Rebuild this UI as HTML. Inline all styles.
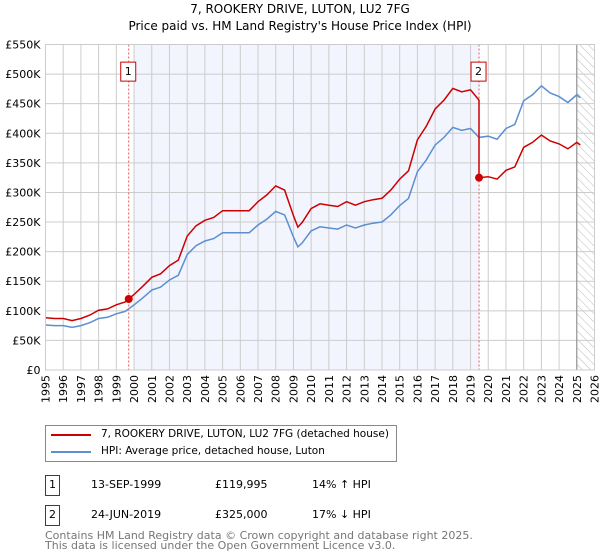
<!DOCTYPE html>
<html><head><meta charset="utf-8"><style>
body{margin:0;background:#fff;font-family:"DejaVu Sans","Liberation Sans",sans-serif;}
#wrap{position:relative;width:600px;height:560px;overflow:hidden;}
.nw{white-space:nowrap}
</style></head><body><div id="wrap">
<svg id="chart" width="600" height="560" style="position:absolute;left:0;top:0;font-family:'DejaVu Sans','Liberation Sans',sans-serif">
<text x="300" y="13" text-anchor="middle" font-size="12">7, ROOKERY DRIVE, LUTON, LU2 7FG</text>
<text x="300" y="30" text-anchor="middle" font-size="12">Price paid vs. HM Land Registry's House Price Index (HPI)</text>
<g id="plot"></g>
</svg>
<div class="nw" style="position:absolute;left:45px;top:425px;width:350px;height:35px;border:1px solid #888;font-size:10.5px">
 <div style="position:absolute;left:5px;top:8px;width:40px;height:2px;background:#cc0000"></div>
 <div class="nw" style="position:absolute;left:55px;top:2px">7, ROOKERY DRIVE, LUTON, LU2 7FG (detached house)</div>
 <div style="position:absolute;left:5px;top:25px;width:40px;height:2px;background:#5b8fd0"></div>
 <div class="nw" style="position:absolute;left:55px;top:19px">HPI: Average price, detached house, Luton</div>
</div>
<div style="font-size:11px" class="nw">
 <div style="position:absolute;left:45px;top:475px;width:13px;height:19px;border:1px solid #cc0000;text-align:center;line-height:18px">1</div>
 <div style="position:absolute;left:91px;top:478px">13-SEP-1999</div>
 <div style="position:absolute;left:215px;top:478px">£119,995</div>
 <div style="position:absolute;left:312px;top:478px">14% ↑ HPI</div>
 <div style="position:absolute;left:45px;top:505px;width:13px;height:19px;border:1px solid #cc0000;text-align:center;line-height:18px">2</div>
 <div style="position:absolute;left:91px;top:508px">24-JUN-2019</div>
 <div style="position:absolute;left:215px;top:508px">£325,000</div>
 <div style="position:absolute;left:312px;top:508px">17% ↓ HPI</div>
</div>
<div class="nw" style="position:absolute;left:45px;top:531px;font-size:11px;color:#777;line-height:10px">Contains HM Land Registry data © Crown copyright and database right 2025.<br>This data is licensed under the Open Government Licence v3.0.</div>
</div>
<script>
const years=[1995,1995.5,1996,1996.5,1997,1997.5,1998,1998.5,1999,1999.5,2000,2000.5,2001,2001.5,2002,2002.5,2003,2003.5,2004,2004.5,2005,2005.5,2006,2006.5,2007,2007.5,2008,2008.5,2009,2009.25,2009.5,2010,2010.5,2011,2011.5,2012,2012.5,2013,2013.5,2014,2014.5,2015,2015.5,2016,2016.5,2017,2017.5,2018,2018.5,2019,2019.48,2020,2020.5,2021,2021.5,2022,2022.5,2023,2023.5,2024,2024.5,2025,2025.2];
const hpi=[76,75,75,72,75,80,87,89,95,99,110,122,135,140,152,160,195,210,218,222,232,232,232,232,245,255,268,262,225,208,215,235,242,240,238,245,240,245,248,250,262,278,290,335,355,380,393,410,405,408,393,395,390,408,415,455,465,480,468,462,452,465,460];
const saleYears=[1999.7,2019.48];
const salePrices=[119.995,325];
const yTicks=[0,50,100,150,200,250,300,350,400,450,500,550];
const yLabels=["£0","£50K","£100K","£150K","£200K","£250K","£300K","£350K","£400K","£450K","£500K","£550K"];
const xTicks=[1995,1996,1997,1998,1999,2000,2001,2002,2003,2004,2005,2006,2007,2008,2009,2010,2011,2012,2013,2014,2015,2016,2017,2018,2019,2020,2021,2022,2023,2024,2025,2026];

const X0=45.5,X1=594.5,Y0=370,Y1=44.5;
const x=t=>X0+(t-1995)/31*(X1-X0);
const y=v=>Y0-v/550*(Y0-Y1);
const ns="http://www.w3.org/2000/svg";
const g=document.getElementById('plot');
function mk(tag,a,name,parent){const e=document.createElementNS(ns,tag);for(const k in a)e.setAttribute(k,a[k]);


(parent||g).appendChild(e);return e;}
const defs=mk('defs',{},'defs');
defs.innerHTML='<pattern id="h" width="6" height="6" patternUnits="userSpaceOnUse" patternTransform="rotate(-45)"><line x1="0" y1="0" x2="0" y2="6" stroke="#bbb" stroke-width="1"/></pattern>';
mk('rect',{x:x(2000),y:Y1,width:x(saleYears[1])-x(2000),height:Y0-Y1,fill:'#f2f5fd'},'shaded-period');
mk('rect',{x:x(2025),y:Y1,width:X1-x(2025),height:Y0-Y1,fill:'url(#h)'},'forecast-hatch');
xTicks.forEach(t=>{mk('line',{x1:x(t),x2:x(t),y1:Y1,y2:Y0,stroke:'#cccccc'},'x-gridline');
 const gg=mk('g',{transform:'translate('+(x(t)+4)+','+(Y0+5)+') rotate(-90)'},'x-tick-group');
 const tx=mk('text',{x:0,y:0,'font-size':11,'text-anchor':'end'},'x-tick-label',gg);tx.textContent=t;});
yTicks.forEach((v,i)=>{mk('line',{x1:X0,x2:X1,y1:y(v),y2:y(v),stroke:'#cccccc'},'y-gridline');
 const tx=mk('text',{x:X0-5,y:y(v)+4,'font-size':11,'text-anchor':'end'},'y-tick-label');tx.textContent=yLabels[i];});
mk('line',{x1:x(2025),x2:x(2025),y1:Y1,y2:Y0,stroke:'#888'},'now-line');
saleYears.forEach((s,i)=>{mk('line',{x1:x(s),x2:x(s),y1:Y1,y2:Y0,stroke:'#ee5555','stroke-dasharray':'2,2'},'sale-marker-line');
 mk('rect',{x:x(s)-8,y:y(505)-9,width:15,height:19,fill:'#fff',stroke:'#cc0000'},'sale-badge-box');
 const tx=mk('text',{x:x(s)-0.5,y:y(505)+4,'font-size':11,'text-anchor':'middle'},'sale-badge-label');tx.textContent=i+1;});
mk('path',{d:years.map((t,i)=>(i?'L':'M')+x(t).toFixed(1)+','+y(hpi[i]).toFixed(1)).join(''),fill:'none',stroke:'#5b8fd0','stroke-width':1.5},'hpi-line');
function hpiAt(t){for(let i=1;i<years.length;i++)if(t<=years[i]){const f=(t-years[i-1])/(years[i]-years[i-1]);return hpi[i-1]+f*(hpi[i]-hpi[i-1]);}return hpi[hpi.length-1];}
const r1=salePrices[0]/hpiAt(saleYears[0]),r2=salePrices[1]/hpiAt(saleYears[1]);
let d='';
years.forEach((t,i)=>{if(t<saleYears[1])d+=(d?'L':'M')+x(t).toFixed(1)+','+y(hpi[i]*r1).toFixed(1);});
d+='L'+x(saleYears[1]).toFixed(1)+','+y(hpiAt(saleYears[1])*r1).toFixed(1);
years.forEach((t,i)=>{if(t>=saleYears[1])d+='L'+x(t).toFixed(1)+','+y(hpi[i]*r2).toFixed(1);});
mk('path',{d:d,fill:'none',stroke:'#cc0000','stroke-width':1.5},'property-price-line');
saleYears.forEach((s,i)=>mk('circle',{cx:x(s),cy:y(salePrices[i]),r:4,fill:'#cc0000'},'sale-point'));
mk('rect',{x:X0,y:Y1,width:X1-X0,height:Y0-Y1,fill:'none',stroke:'#cccccc'},'plot-border');
</script></body></html>
